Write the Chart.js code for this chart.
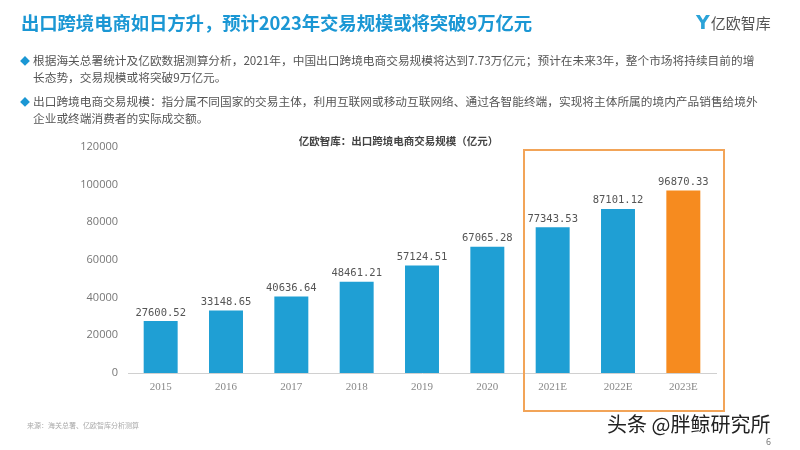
<html>
<head>
    <meta charset="utf-8">
    <title>出口跨境电商交易规模</title>
    <script src="https://cdn.jsdelivr.net/npm/chart.js"></script>
</head>

<style>
    body {
        margin: 0;
        background-color: #ffffff;
        font-family: "Noto Sans CJK SC", "Noto Sans", sans-serif;
    }
    #page {
        position: relative;
        width: 800px;
        height: 450px;
        overflow: hidden;
        background: #ffffff;
    }
    #page div {
        position: absolute;
        white-space: nowrap;
    }
    .headline {
        left: 21px;
        top: 9px;
        font-size: 18.4px;
        font-weight: bold;
        color: #1b97d4;
        letter-spacing: -0.1px;
    }
    .logo {
        left: 696px;
        top: 11px;
        font-size: 15px;
        color: #555;
    }
    .logo b {
        color: #2aa3d8;
        font-size: 19px;
        font-family: "DejaVu Sans", sans-serif;
        margin-right: 1px;
    }
    .bullet {
        left: 20px;
        font-size: 11.7px;
        line-height: 16px;
        color: #555;
    }
    .bullet span {
        color: #1b97d4;
        font-size: 10px;
        margin-right: 3px;
    }
    .subtitle {
        left: 0;
        width: 797px;
        text-align: center;
        top: 133px;
        font-size: 10.5px;
        font-weight: bold;
        color: #444;
    }
    .source {
        left: 27px;
        top: 420px;
        font-size: 7px;
        color: #aaa;
    }
    .mark {
        left: 607px;
        top: 409px;
        font-size: 20px;
        color: #222;
    }
    .pageno {
        left: 766px;
        top: 435px;
        font-size: 9px;
        color: #777;
    }
    canvas {
        position: absolute;
        left: 0;
        top: 0;
    }
</style>

<body>
    <div id="page">
        <canvas id="myChart" width="800" height="450"></canvas>
        <div class="headline">出口跨境电商如日方升，预计2023年交易规模或将突破9万亿元</div>
        <div class="logo"><b>Y</b>亿欧智库</div>
        <div class="bullet" style="top: 52px;"><span>◆</span>根据海关总署统计及亿欧数据测算分析，2021年，中国出口跨境电商交易规模将达到7.73万亿元；预计在未来3年，整个市场将持续目前的增<br><span style="visibility: hidden;">◆</span>长态势，交易规模或将突破9万亿元。</div>
        <div class="bullet" style="top: 93px;"><span>◆</span>出口跨境电商交易规模：指分属不同国家的交易主体，利用互联网或移动互联网络、通过各智能终端，实现将主体所属的境内产品销售给境外<br><span style="visibility: hidden;">◆</span>企业或终端消费者的实际成交额。</div>
        <div class="subtitle">亿欧智库：出口跨境电商交易规模（亿元）</div>
        <div class="source">来源：海关总署、亿欧智库分析测算</div>
        <div class="mark">头条 @胖鲸研究所</div>
        <div class="pageno">6</div>
    </div>

    <script>
        // data
        const years = ['2015', '2016', '2017', '2018', '2019', '2020', '2021E', '2022E', '2023E'];
        const tradeScale = [27600.52, 33148.65, 40636.64, 48461.21, 57124.51, 67065.28, 77343.53, 87101.12, 96870.33];
        const yTicks = [0, 20000, 40000, 60000, 80000, 100000, 120000];
        const firstForecast = 6;

        const BLUE = '#1f9fd4';
        const ORANGE = '#f68b1f';

        // value labels above each bar
        const valueLabels = {
            id: 'valueLabels',
            afterDatasetsDraw(chart) {
                const ctx = chart.ctx;
                const meta = chart.getDatasetMeta(0);
                ctx.save();
                ctx.font = '10.5px "DejaVu Sans Mono", monospace';
                ctx.fillStyle = '#555';
                ctx.textAlign = 'center';
                ctx.textBaseline = 'bottom';
                meta.data.forEach((bar, i) => {
                    ctx.fillText(tradeScale[i].toFixed(2), bar.x, bar.y - 3);
                });
                ctx.restore();
            }
        };

        // orange frame round the forecast years
        const forecastFrame = {
            id: 'forecastFrame',
            afterDraw(chart) {
                const x = chart.scales.x;
                const area = chart.chartArea;
                const left = (x.getPixelForValue(firstForecast - 1) + x.getPixelForValue(firstForecast)) / 2 + 4;
                const right = area.right + 8;
                const top = area.top + 3;
                const bottom = area.bottom + 38;
                const ctx = chart.ctx;
                ctx.save();
                ctx.strokeStyle = '#f2a458';
                ctx.lineWidth = 2;
                ctx.strokeRect(left, top, right - left, bottom - top);
                ctx.restore();
            }
        };

        const config = {
            type: 'bar',
            data: {
                labels: years,
                datasets: [{
                    data: tradeScale,
                    backgroundColor: (c) => c.dataIndex === years.length - 1 ? ORANGE : BLUE,
                    categoryPercentage: 1,
                    barPercentage: 0.52
                }]
            },
            options: {
                responsive: false,
                animation: false,
                layout: {
                    padding: { top: 147, right: 84, bottom: 0, left: 0 }
                },
                plugins: {
                    legend: { display: false },
                    tooltip: { enabled: false }
                },
                scales: {
                    x: {
                        grid: { display: false, drawTicks: false },
                        border: { color: '#d0d0d0', width: 1 },
                        ticks: {
                            padding: 8,
                            color: '#888',
                            font: { family: '"Liberation Serif", serif', size: 11 }
                        },
                        afterFit: (s) => { s.height = 77; }
                    },
                    y: {
                        min: 0,
                        max: yTicks[yTicks.length - 1],
                        afterBuildTicks: (s) => { s.ticks = yTicks.map(v => ({ value: v })); },
                        grid: { display: false, drawTicks: false },
                        border: { display: false },
                        ticks: {
                            padding: 10,
                            color: '#777',
                            font: { family: '"Open Sans", sans-serif', size: 11 },
                            callback: (v) => String(v)
                        },
                        afterFit: (s) => { s.width = 128; }
                    }
                }
            },
            plugins: [valueLabels, forecastFrame]
        };
    </script>
    <script>
        const myChart = new Chart(
            document.getElementById('myChart'),
            config
        );
    </script>
</body>

</html>
